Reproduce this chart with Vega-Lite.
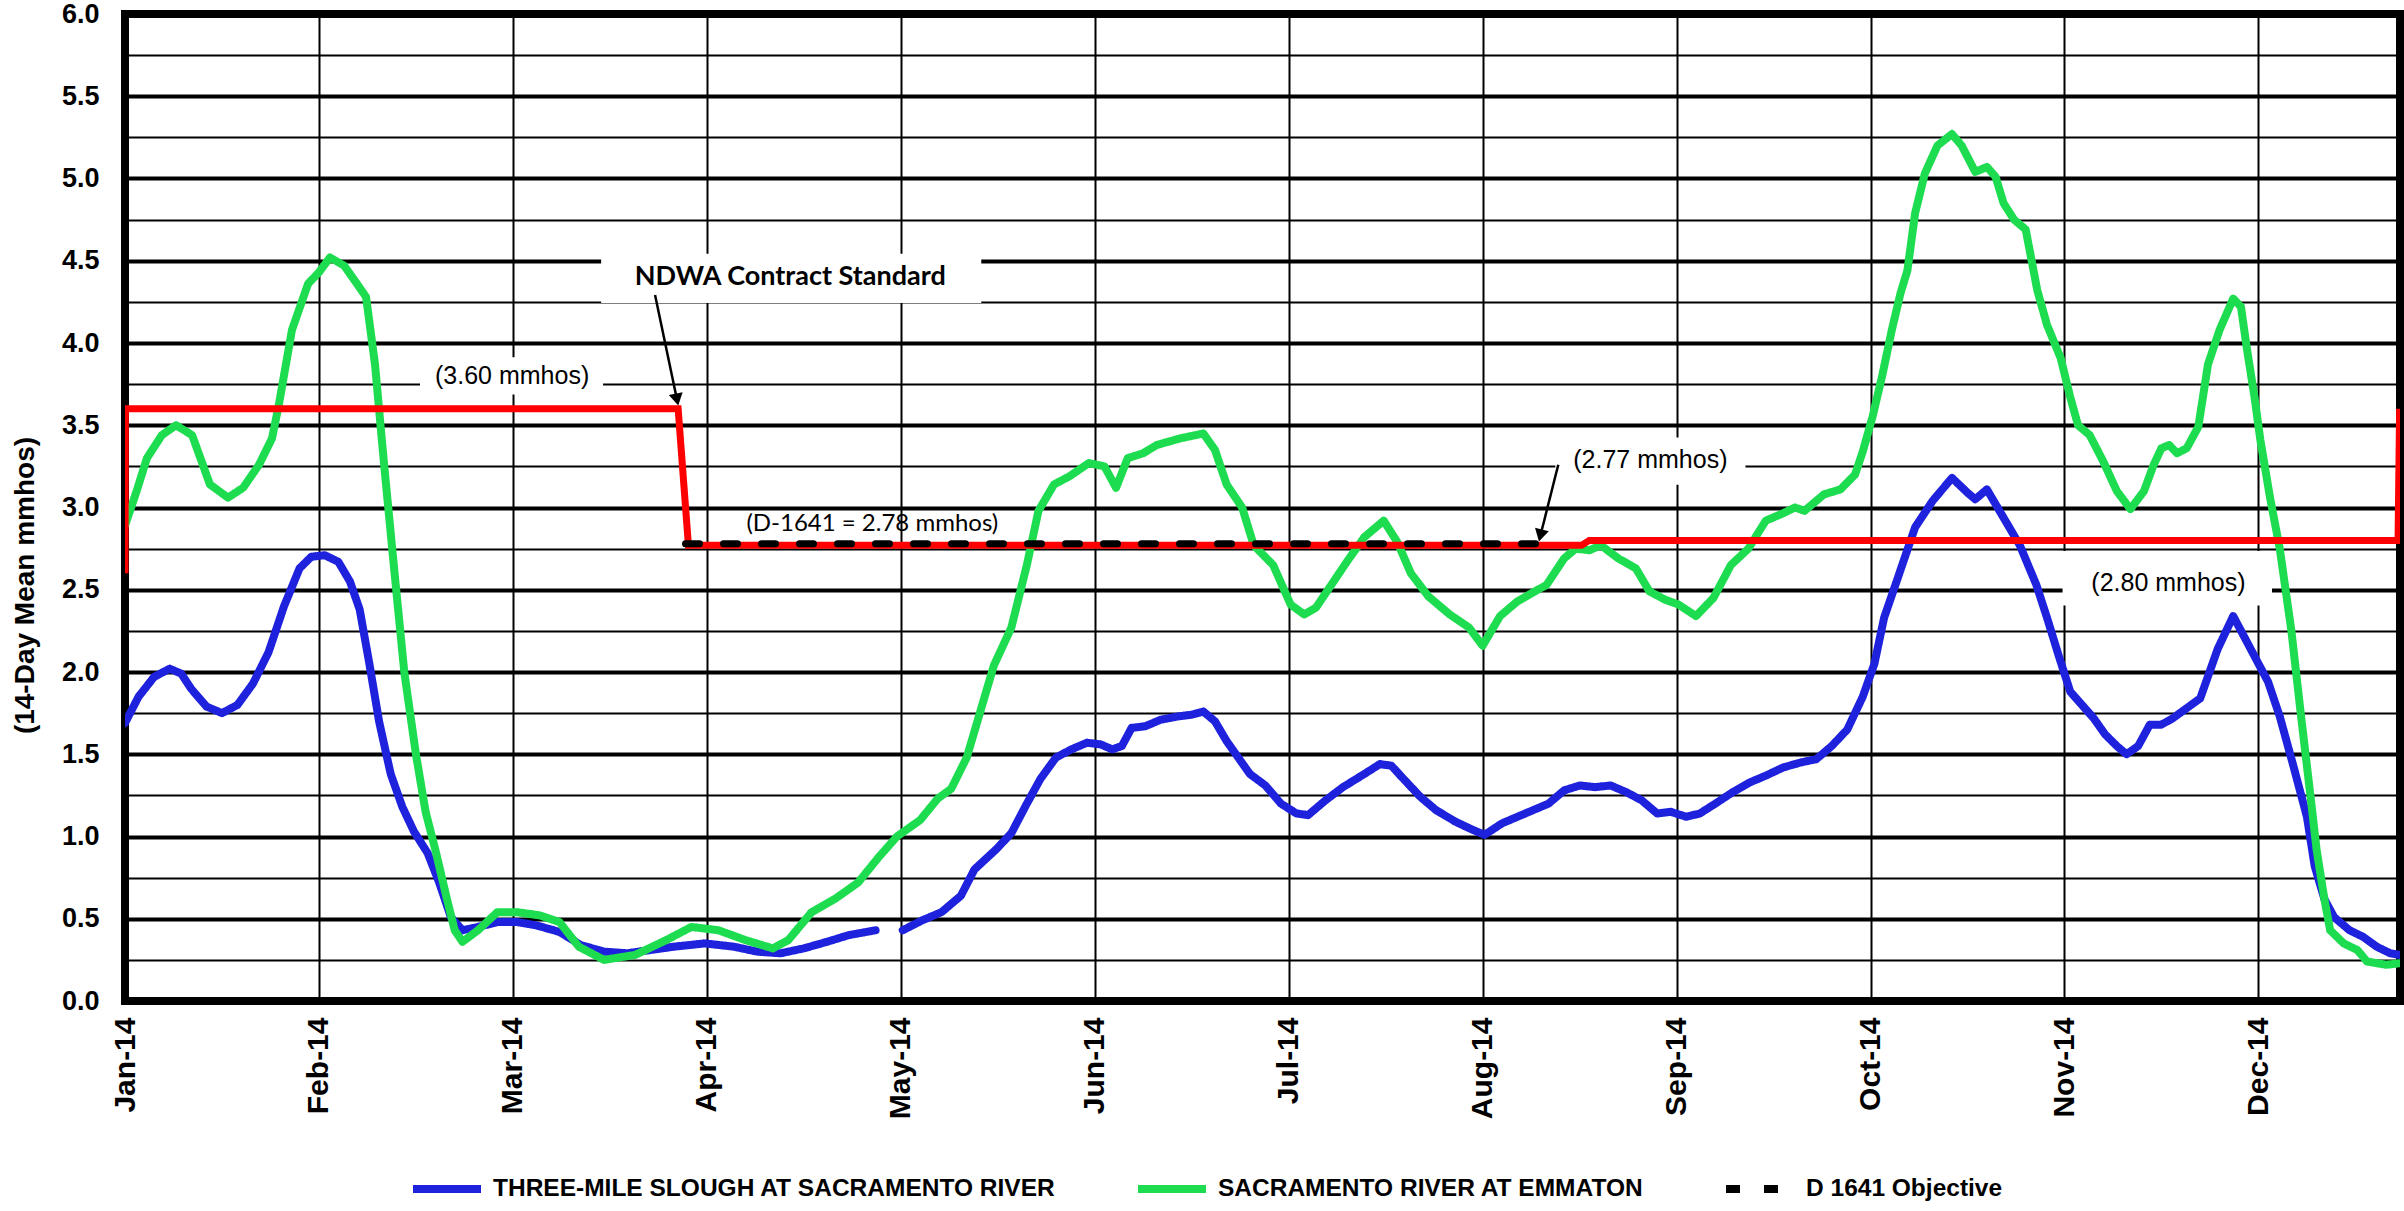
{
 "$schema": "https://vega.github.io/schema/vega-lite/v6.json",
 "width": 2275, "height": 987,
 "autosize": {"type": "none"},
 "padding": {"left": 125, "top": 14, "right": 4, "bottom": 210},
 "background": "white",
 "config": {"font": "Liberation Sans", "view": {"stroke": "black", "strokeWidth": 8}},
 "datasets": {
  "boxes": [
   {"t": 2.455, "t2": 4.415, "ec": 4.243, "ec2": 4.542},
   {"t": 1.521, "t2": 2.465, "ec": 3.687, "ec2": 3.913},
   {"t": 7.375, "t2": 8.355, "ec": 3.138, "ec2": 3.425},
   {"t": 9.99, "t2": 11.07, "ec": 2.405, "ec2": 2.735}
  ],
  "ndwa": [
   {"t": 0, "ec": 2.6}, {"t": 0.002, "ec": 3.6}, {"t": 2.852, "ec": 3.6}, {"t": 2.905, "ec": 2.77},
   {"t": 7.51, "ec": 2.77}, {"t": 7.55, "ec": 2.8}, {"t": 11.72, "ec": 2.8}, {"t": 11.728, "ec": 3.6}
  ],
  "d1641": [
   {"s": "D 1641 Objective", "seg": 1, "t": 2.89, "ec": 2.78},
   {"s": "D 1641 Objective", "seg": 1, "t": 7.30, "ec": 2.78}
  ],
  "series": [
   {"s": "THREE-MILE SLOUGH AT SACRAMENTO RIVER", "seg": 1, "t": 0.00, "ec": 1.69},
   {"s": "THREE-MILE SLOUGH AT SACRAMENTO RIVER", "seg": 1, "t": 0.07, "ec": 1.85},
   {"s": "THREE-MILE SLOUGH AT SACRAMENTO RIVER", "seg": 1, "t": 0.15, "ec": 1.97},
   {"s": "THREE-MILE SLOUGH AT SACRAMENTO RIVER", "seg": 1, "t": 0.23, "ec": 2.02},
   {"s": "THREE-MILE SLOUGH AT SACRAMENTO RIVER", "seg": 1, "t": 0.29, "ec": 1.99},
   {"s": "THREE-MILE SLOUGH AT SACRAMENTO RIVER", "seg": 1, "t": 0.34, "ec": 1.90},
   {"s": "THREE-MILE SLOUGH AT SACRAMENTO RIVER", "seg": 1, "t": 0.42, "ec": 1.79},
   {"s": "THREE-MILE SLOUGH AT SACRAMENTO RIVER", "seg": 1, "t": 0.50, "ec": 1.75},
   {"s": "THREE-MILE SLOUGH AT SACRAMENTO RIVER", "seg": 1, "t": 0.58, "ec": 1.80},
   {"s": "THREE-MILE SLOUGH AT SACRAMENTO RIVER", "seg": 1, "t": 0.66, "ec": 1.93},
   {"s": "THREE-MILE SLOUGH AT SACRAMENTO RIVER", "seg": 1, "t": 0.74, "ec": 2.12},
   {"s": "THREE-MILE SLOUGH AT SACRAMENTO RIVER", "seg": 1, "t": 0.82, "ec": 2.40},
   {"s": "THREE-MILE SLOUGH AT SACRAMENTO RIVER", "seg": 1, "t": 0.90, "ec": 2.63},
   {"s": "THREE-MILE SLOUGH AT SACRAMENTO RIVER", "seg": 1, "t": 0.96, "ec": 2.70},
   {"s": "THREE-MILE SLOUGH AT SACRAMENTO RIVER", "seg": 1, "t": 1.03, "ec": 2.71},
   {"s": "THREE-MILE SLOUGH AT SACRAMENTO RIVER", "seg": 1, "t": 1.10, "ec": 2.67},
   {"s": "THREE-MILE SLOUGH AT SACRAMENTO RIVER", "seg": 1, "t": 1.16, "ec": 2.55},
   {"s": "THREE-MILE SLOUGH AT SACRAMENTO RIVER", "seg": 1, "t": 1.21, "ec": 2.38},
   {"s": "THREE-MILE SLOUGH AT SACRAMENTO RIVER", "seg": 1, "t": 1.26, "ec": 2.05},
   {"s": "THREE-MILE SLOUGH AT SACRAMENTO RIVER", "seg": 1, "t": 1.31, "ec": 1.70},
   {"s": "THREE-MILE SLOUGH AT SACRAMENTO RIVER", "seg": 1, "t": 1.37, "ec": 1.38},
   {"s": "THREE-MILE SLOUGH AT SACRAMENTO RIVER", "seg": 1, "t": 1.43, "ec": 1.18},
   {"s": "THREE-MILE SLOUGH AT SACRAMENTO RIVER", "seg": 1, "t": 1.49, "ec": 1.03},
   {"s": "THREE-MILE SLOUGH AT SACRAMENTO RIVER", "seg": 1, "t": 1.56, "ec": 0.90},
   {"s": "THREE-MILE SLOUGH AT SACRAMENTO RIVER", "seg": 1, "t": 1.62, "ec": 0.72},
   {"s": "THREE-MILE SLOUGH AT SACRAMENTO RIVER", "seg": 1, "t": 1.68, "ec": 0.51},
   {"s": "THREE-MILE SLOUGH AT SACRAMENTO RIVER", "seg": 1, "t": 1.74, "ec": 0.43},
   {"s": "THREE-MILE SLOUGH AT SACRAMENTO RIVER", "seg": 1, "t": 1.82, "ec": 0.45},
   {"s": "THREE-MILE SLOUGH AT SACRAMENTO RIVER", "seg": 1, "t": 1.92, "ec": 0.48},
   {"s": "THREE-MILE SLOUGH AT SACRAMENTO RIVER", "seg": 1, "t": 2.02, "ec": 0.48},
   {"s": "THREE-MILE SLOUGH AT SACRAMENTO RIVER", "seg": 1, "t": 2.12, "ec": 0.46},
   {"s": "THREE-MILE SLOUGH AT SACRAMENTO RIVER", "seg": 1, "t": 2.24, "ec": 0.42},
   {"s": "THREE-MILE SLOUGH AT SACRAMENTO RIVER", "seg": 1, "t": 2.35, "ec": 0.34},
   {"s": "THREE-MILE SLOUGH AT SACRAMENTO RIVER", "seg": 1, "t": 2.47, "ec": 0.30},
   {"s": "THREE-MILE SLOUGH AT SACRAMENTO RIVER", "seg": 1, "t": 2.59, "ec": 0.29},
   {"s": "THREE-MILE SLOUGH AT SACRAMENTO RIVER", "seg": 1, "t": 2.71, "ec": 0.31},
   {"s": "THREE-MILE SLOUGH AT SACRAMENTO RIVER", "seg": 1, "t": 2.83, "ec": 0.33},
   {"s": "THREE-MILE SLOUGH AT SACRAMENTO RIVER", "seg": 1, "t": 2.99, "ec": 0.35},
   {"s": "THREE-MILE SLOUGH AT SACRAMENTO RIVER", "seg": 1, "t": 3.14, "ec": 0.33},
   {"s": "THREE-MILE SLOUGH AT SACRAMENTO RIVER", "seg": 1, "t": 3.26, "ec": 0.30},
   {"s": "THREE-MILE SLOUGH AT SACRAMENTO RIVER", "seg": 1, "t": 3.38, "ec": 0.29},
   {"s": "THREE-MILE SLOUGH AT SACRAMENTO RIVER", "seg": 1, "t": 3.50, "ec": 0.32},
   {"s": "THREE-MILE SLOUGH AT SACRAMENTO RIVER", "seg": 1, "t": 3.62, "ec": 0.36},
   {"s": "THREE-MILE SLOUGH AT SACRAMENTO RIVER", "seg": 1, "t": 3.73, "ec": 0.40},
   {"s": "THREE-MILE SLOUGH AT SACRAMENTO RIVER", "seg": 1, "t": 3.87, "ec": 0.43},
   {"s": "THREE-MILE SLOUGH AT SACRAMENTO RIVER", "seg": 2, "t": 4.01, "ec": 0.43},
   {"s": "THREE-MILE SLOUGH AT SACRAMENTO RIVER", "seg": 2, "t": 4.11, "ec": 0.49},
   {"s": "THREE-MILE SLOUGH AT SACRAMENTO RIVER", "seg": 2, "t": 4.21, "ec": 0.54},
   {"s": "THREE-MILE SLOUGH AT SACRAMENTO RIVER", "seg": 2, "t": 4.31, "ec": 0.64},
   {"s": "THREE-MILE SLOUGH AT SACRAMENTO RIVER", "seg": 2, "t": 4.38, "ec": 0.80},
   {"s": "THREE-MILE SLOUGH AT SACRAMENTO RIVER", "seg": 2, "t": 4.49, "ec": 0.92},
   {"s": "THREE-MILE SLOUGH AT SACRAMENTO RIVER", "seg": 2, "t": 4.57, "ec": 1.02},
   {"s": "THREE-MILE SLOUGH AT SACRAMENTO RIVER", "seg": 2, "t": 4.65, "ec": 1.20},
   {"s": "THREE-MILE SLOUGH AT SACRAMENTO RIVER", "seg": 2, "t": 4.72, "ec": 1.35},
   {"s": "THREE-MILE SLOUGH AT SACRAMENTO RIVER", "seg": 2, "t": 4.80, "ec": 1.48},
   {"s": "THREE-MILE SLOUGH AT SACRAMENTO RIVER", "seg": 2, "t": 4.88, "ec": 1.53},
   {"s": "THREE-MILE SLOUGH AT SACRAMENTO RIVER", "seg": 2, "t": 4.96, "ec": 1.57},
   {"s": "THREE-MILE SLOUGH AT SACRAMENTO RIVER", "seg": 2, "t": 5.03, "ec": 1.56},
   {"s": "THREE-MILE SLOUGH AT SACRAMENTO RIVER", "seg": 2, "t": 5.09, "ec": 1.53},
   {"s": "THREE-MILE SLOUGH AT SACRAMENTO RIVER", "seg": 2, "t": 5.14, "ec": 1.55},
   {"s": "THREE-MILE SLOUGH AT SACRAMENTO RIVER", "seg": 2, "t": 5.19, "ec": 1.66},
   {"s": "THREE-MILE SLOUGH AT SACRAMENTO RIVER", "seg": 2, "t": 5.26, "ec": 1.67},
   {"s": "THREE-MILE SLOUGH AT SACRAMENTO RIVER", "seg": 2, "t": 5.34, "ec": 1.71},
   {"s": "THREE-MILE SLOUGH AT SACRAMENTO RIVER", "seg": 2, "t": 5.43, "ec": 1.73},
   {"s": "THREE-MILE SLOUGH AT SACRAMENTO RIVER", "seg": 2, "t": 5.50, "ec": 1.74},
   {"s": "THREE-MILE SLOUGH AT SACRAMENTO RIVER", "seg": 2, "t": 5.56, "ec": 1.76},
   {"s": "THREE-MILE SLOUGH AT SACRAMENTO RIVER", "seg": 2, "t": 5.62, "ec": 1.70},
   {"s": "THREE-MILE SLOUGH AT SACRAMENTO RIVER", "seg": 2, "t": 5.68, "ec": 1.58},
   {"s": "THREE-MILE SLOUGH AT SACRAMENTO RIVER", "seg": 2, "t": 5.74, "ec": 1.48},
   {"s": "THREE-MILE SLOUGH AT SACRAMENTO RIVER", "seg": 2, "t": 5.80, "ec": 1.38},
   {"s": "THREE-MILE SLOUGH AT SACRAMENTO RIVER", "seg": 2, "t": 5.88, "ec": 1.31},
   {"s": "THREE-MILE SLOUGH AT SACRAMENTO RIVER", "seg": 2, "t": 5.96, "ec": 1.20},
   {"s": "THREE-MILE SLOUGH AT SACRAMENTO RIVER", "seg": 2, "t": 6.04, "ec": 1.14},
   {"s": "THREE-MILE SLOUGH AT SACRAMENTO RIVER", "seg": 2, "t": 6.10, "ec": 1.13},
   {"s": "THREE-MILE SLOUGH AT SACRAMENTO RIVER", "seg": 2, "t": 6.19, "ec": 1.22},
   {"s": "THREE-MILE SLOUGH AT SACRAMENTO RIVER", "seg": 2, "t": 6.28, "ec": 1.30},
   {"s": "THREE-MILE SLOUGH AT SACRAMENTO RIVER", "seg": 2, "t": 6.39, "ec": 1.38},
   {"s": "THREE-MILE SLOUGH AT SACRAMENTO RIVER", "seg": 2, "t": 6.47, "ec": 1.44},
   {"s": "THREE-MILE SLOUGH AT SACRAMENTO RIVER", "seg": 2, "t": 6.53, "ec": 1.43},
   {"s": "THREE-MILE SLOUGH AT SACRAMENTO RIVER", "seg": 2, "t": 6.60, "ec": 1.34},
   {"s": "THREE-MILE SLOUGH AT SACRAMENTO RIVER", "seg": 2, "t": 6.68, "ec": 1.24},
   {"s": "THREE-MILE SLOUGH AT SACRAMENTO RIVER", "seg": 2, "t": 6.76, "ec": 1.16},
   {"s": "THREE-MILE SLOUGH AT SACRAMENTO RIVER", "seg": 2, "t": 6.86, "ec": 1.09},
   {"s": "THREE-MILE SLOUGH AT SACRAMENTO RIVER", "seg": 2, "t": 6.95, "ec": 1.04},
   {"s": "THREE-MILE SLOUGH AT SACRAMENTO RIVER", "seg": 2, "t": 7.01, "ec": 1.01},
   {"s": "THREE-MILE SLOUGH AT SACRAMENTO RIVER", "seg": 2, "t": 7.10, "ec": 1.08},
   {"s": "THREE-MILE SLOUGH AT SACRAMENTO RIVER", "seg": 2, "t": 7.22, "ec": 1.14},
   {"s": "THREE-MILE SLOUGH AT SACRAMENTO RIVER", "seg": 2, "t": 7.34, "ec": 1.20},
   {"s": "THREE-MILE SLOUGH AT SACRAMENTO RIVER", "seg": 2, "t": 7.42, "ec": 1.28},
   {"s": "THREE-MILE SLOUGH AT SACRAMENTO RIVER", "seg": 2, "t": 7.50, "ec": 1.31},
   {"s": "THREE-MILE SLOUGH AT SACRAMENTO RIVER", "seg": 2, "t": 7.58, "ec": 1.30},
   {"s": "THREE-MILE SLOUGH AT SACRAMENTO RIVER", "seg": 2, "t": 7.66, "ec": 1.31},
   {"s": "THREE-MILE SLOUGH AT SACRAMENTO RIVER", "seg": 2, "t": 7.74, "ec": 1.27},
   {"s": "THREE-MILE SLOUGH AT SACRAMENTO RIVER", "seg": 2, "t": 7.82, "ec": 1.22},
   {"s": "THREE-MILE SLOUGH AT SACRAMENTO RIVER", "seg": 2, "t": 7.90, "ec": 1.14},
   {"s": "THREE-MILE SLOUGH AT SACRAMENTO RIVER", "seg": 2, "t": 7.97, "ec": 1.15},
   {"s": "THREE-MILE SLOUGH AT SACRAMENTO RIVER", "seg": 2, "t": 8.05, "ec": 1.12},
   {"s": "THREE-MILE SLOUGH AT SACRAMENTO RIVER", "seg": 2, "t": 8.12, "ec": 1.14},
   {"s": "THREE-MILE SLOUGH AT SACRAMENTO RIVER", "seg": 2, "t": 8.20, "ec": 1.20},
   {"s": "THREE-MILE SLOUGH AT SACRAMENTO RIVER", "seg": 2, "t": 8.29, "ec": 1.27},
   {"s": "THREE-MILE SLOUGH AT SACRAMENTO RIVER", "seg": 2, "t": 8.38, "ec": 1.33},
   {"s": "THREE-MILE SLOUGH AT SACRAMENTO RIVER", "seg": 2, "t": 8.46, "ec": 1.37},
   {"s": "THREE-MILE SLOUGH AT SACRAMENTO RIVER", "seg": 2, "t": 8.55, "ec": 1.42},
   {"s": "THREE-MILE SLOUGH AT SACRAMENTO RIVER", "seg": 2, "t": 8.64, "ec": 1.45},
   {"s": "THREE-MILE SLOUGH AT SACRAMENTO RIVER", "seg": 2, "t": 8.72, "ec": 1.47},
   {"s": "THREE-MILE SLOUGH AT SACRAMENTO RIVER", "seg": 2, "t": 8.80, "ec": 1.55},
   {"s": "THREE-MILE SLOUGH AT SACRAMENTO RIVER", "seg": 2, "t": 8.88, "ec": 1.65},
   {"s": "THREE-MILE SLOUGH AT SACRAMENTO RIVER", "seg": 2, "t": 8.96, "ec": 1.85},
   {"s": "THREE-MILE SLOUGH AT SACRAMENTO RIVER", "seg": 2, "t": 9.02, "ec": 2.05},
   {"s": "THREE-MILE SLOUGH AT SACRAMENTO RIVER", "seg": 2, "t": 9.07, "ec": 2.33},
   {"s": "THREE-MILE SLOUGH AT SACRAMENTO RIVER", "seg": 2, "t": 9.14, "ec": 2.57},
   {"s": "THREE-MILE SLOUGH AT SACRAMENTO RIVER", "seg": 2, "t": 9.23, "ec": 2.88},
   {"s": "THREE-MILE SLOUGH AT SACRAMENTO RIVER", "seg": 2, "t": 9.32, "ec": 3.04},
   {"s": "THREE-MILE SLOUGH AT SACRAMENTO RIVER", "seg": 2, "t": 9.42, "ec": 3.18},
   {"s": "THREE-MILE SLOUGH AT SACRAMENTO RIVER", "seg": 2, "t": 9.50, "ec": 3.09},
   {"s": "THREE-MILE SLOUGH AT SACRAMENTO RIVER", "seg": 2, "t": 9.54, "ec": 3.05},
   {"s": "THREE-MILE SLOUGH AT SACRAMENTO RIVER", "seg": 2, "t": 9.60, "ec": 3.11},
   {"s": "THREE-MILE SLOUGH AT SACRAMENTO RIVER", "seg": 2, "t": 9.675, "ec": 2.96},
   {"s": "THREE-MILE SLOUGH AT SACRAMENTO RIVER", "seg": 2, "t": 9.77, "ec": 2.77},
   {"s": "THREE-MILE SLOUGH AT SACRAMENTO RIVER", "seg": 2, "t": 9.855, "ec": 2.53},
   {"s": "THREE-MILE SLOUGH AT SACRAMENTO RIVER", "seg": 2, "t": 9.91, "ec": 2.33},
   {"s": "THREE-MILE SLOUGH AT SACRAMENTO RIVER", "seg": 2, "t": 9.97, "ec": 2.10},
   {"s": "THREE-MILE SLOUGH AT SACRAMENTO RIVER", "seg": 2, "t": 10.03, "ec": 1.88},
   {"s": "THREE-MILE SLOUGH AT SACRAMENTO RIVER", "seg": 2, "t": 10.09, "ec": 1.80},
   {"s": "THREE-MILE SLOUGH AT SACRAMENTO RIVER", "seg": 2, "t": 10.15, "ec": 1.72},
   {"s": "THREE-MILE SLOUGH AT SACRAMENTO RIVER", "seg": 2, "t": 10.21, "ec": 1.62},
   {"s": "THREE-MILE SLOUGH AT SACRAMENTO RIVER", "seg": 2, "t": 10.27, "ec": 1.55},
   {"s": "THREE-MILE SLOUGH AT SACRAMENTO RIVER", "seg": 2, "t": 10.32, "ec": 1.50},
   {"s": "THREE-MILE SLOUGH AT SACRAMENTO RIVER", "seg": 2, "t": 10.38, "ec": 1.55},
   {"s": "THREE-MILE SLOUGH AT SACRAMENTO RIVER", "seg": 2, "t": 10.44, "ec": 1.68},
   {"s": "THREE-MILE SLOUGH AT SACRAMENTO RIVER", "seg": 2, "t": 10.50, "ec": 1.68},
   {"s": "THREE-MILE SLOUGH AT SACRAMENTO RIVER", "seg": 2, "t": 10.56, "ec": 1.72},
   {"s": "THREE-MILE SLOUGH AT SACRAMENTO RIVER", "seg": 2, "t": 10.63, "ec": 1.78},
   {"s": "THREE-MILE SLOUGH AT SACRAMENTO RIVER", "seg": 2, "t": 10.70, "ec": 1.84},
   {"s": "THREE-MILE SLOUGH AT SACRAMENTO RIVER", "seg": 2, "t": 10.79, "ec": 2.14},
   {"s": "THREE-MILE SLOUGH AT SACRAMENTO RIVER", "seg": 2, "t": 10.87, "ec": 2.34},
   {"s": "THREE-MILE SLOUGH AT SACRAMENTO RIVER", "seg": 2, "t": 10.96, "ec": 2.14},
   {"s": "THREE-MILE SLOUGH AT SACRAMENTO RIVER", "seg": 2, "t": 11.05, "ec": 1.94},
   {"s": "THREE-MILE SLOUGH AT SACRAMENTO RIVER", "seg": 2, "t": 11.11, "ec": 1.73},
   {"s": "THREE-MILE SLOUGH AT SACRAMENTO RIVER", "seg": 2, "t": 11.18, "ec": 1.43},
   {"s": "THREE-MILE SLOUGH AT SACRAMENTO RIVER", "seg": 2, "t": 11.25, "ec": 1.12},
   {"s": "THREE-MILE SLOUGH AT SACRAMENTO RIVER", "seg": 2, "t": 11.29, "ec": 0.82},
   {"s": "THREE-MILE SLOUGH AT SACRAMENTO RIVER", "seg": 2, "t": 11.34, "ec": 0.62},
   {"s": "THREE-MILE SLOUGH AT SACRAMENTO RIVER", "seg": 2, "t": 11.39, "ec": 0.51},
   {"s": "THREE-MILE SLOUGH AT SACRAMENTO RIVER", "seg": 2, "t": 11.47, "ec": 0.43},
   {"s": "THREE-MILE SLOUGH AT SACRAMENTO RIVER", "seg": 2, "t": 11.54, "ec": 0.39},
   {"s": "THREE-MILE SLOUGH AT SACRAMENTO RIVER", "seg": 2, "t": 11.61, "ec": 0.33},
   {"s": "THREE-MILE SLOUGH AT SACRAMENTO RIVER", "seg": 2, "t": 11.68, "ec": 0.29},
   {"s": "THREE-MILE SLOUGH AT SACRAMENTO RIVER", "seg": 2, "t": 11.73, "ec": 0.28},
   {"s": "SACRAMENTO RIVER AT EMMATON", "seg": 1, "t": 0.00, "ec": 2.89},
   {"s": "SACRAMENTO RIVER AT EMMATON", "seg": 1, "t": 0.06, "ec": 3.10},
   {"s": "SACRAMENTO RIVER AT EMMATON", "seg": 1, "t": 0.113, "ec": 3.30},
   {"s": "SACRAMENTO RIVER AT EMMATON", "seg": 1, "t": 0.19, "ec": 3.44},
   {"s": "SACRAMENTO RIVER AT EMMATON", "seg": 1, "t": 0.263, "ec": 3.50},
   {"s": "SACRAMENTO RIVER AT EMMATON", "seg": 1, "t": 0.346, "ec": 3.44},
   {"s": "SACRAMENTO RIVER AT EMMATON", "seg": 1, "t": 0.438, "ec": 3.14},
   {"s": "SACRAMENTO RIVER AT EMMATON", "seg": 1, "t": 0.531, "ec": 3.06},
   {"s": "SACRAMENTO RIVER AT EMMATON", "seg": 1, "t": 0.609, "ec": 3.12},
   {"s": "SACRAMENTO RIVER AT EMMATON", "seg": 1, "t": 0.691, "ec": 3.26},
   {"s": "SACRAMENTO RIVER AT EMMATON", "seg": 1, "t": 0.758, "ec": 3.42},
   {"s": "SACRAMENTO RIVER AT EMMATON", "seg": 1, "t": 0.794, "ec": 3.63},
   {"s": "SACRAMENTO RIVER AT EMMATON", "seg": 1, "t": 0.861, "ec": 4.08},
   {"s": "SACRAMENTO RIVER AT EMMATON", "seg": 1, "t": 0.944, "ec": 4.36},
   {"s": "SACRAMENTO RIVER AT EMMATON", "seg": 1, "t": 1.00, "ec": 4.43},
   {"s": "SACRAMENTO RIVER AT EMMATON", "seg": 1, "t": 1.057, "ec": 4.52},
   {"s": "SACRAMENTO RIVER AT EMMATON", "seg": 1, "t": 1.13, "ec": 4.47},
   {"s": "SACRAMENTO RIVER AT EMMATON", "seg": 1, "t": 1.196, "ec": 4.36},
   {"s": "SACRAMENTO RIVER AT EMMATON", "seg": 1, "t": 1.243, "ec": 4.28},
   {"s": "SACRAMENTO RIVER AT EMMATON", "seg": 1, "t": 1.289, "ec": 3.87},
   {"s": "SACRAMENTO RIVER AT EMMATON", "seg": 1, "t": 1.336, "ec": 3.26},
   {"s": "SACRAMENTO RIVER AT EMMATON", "seg": 1, "t": 1.39, "ec": 2.60},
   {"s": "SACRAMENTO RIVER AT EMMATON", "seg": 1, "t": 1.44, "ec": 2.00},
   {"s": "SACRAMENTO RIVER AT EMMATON", "seg": 1, "t": 1.50, "ec": 1.50},
   {"s": "SACRAMENTO RIVER AT EMMATON", "seg": 1, "t": 1.55, "ec": 1.15},
   {"s": "SACRAMENTO RIVER AT EMMATON", "seg": 1, "t": 1.60, "ec": 0.92},
   {"s": "SACRAMENTO RIVER AT EMMATON", "seg": 1, "t": 1.66, "ec": 0.62},
   {"s": "SACRAMENTO RIVER AT EMMATON", "seg": 1, "t": 1.70, "ec": 0.43},
   {"s": "SACRAMENTO RIVER AT EMMATON", "seg": 1, "t": 1.74, "ec": 0.36},
   {"s": "SACRAMENTO RIVER AT EMMATON", "seg": 1, "t": 1.82, "ec": 0.43},
   {"s": "SACRAMENTO RIVER AT EMMATON", "seg": 1, "t": 1.92, "ec": 0.54},
   {"s": "SACRAMENTO RIVER AT EMMATON", "seg": 1, "t": 2.02, "ec": 0.54},
   {"s": "SACRAMENTO RIVER AT EMMATON", "seg": 1, "t": 2.14, "ec": 0.52},
   {"s": "SACRAMENTO RIVER AT EMMATON", "seg": 1, "t": 2.24, "ec": 0.48},
   {"s": "SACRAMENTO RIVER AT EMMATON", "seg": 1, "t": 2.34, "ec": 0.33},
   {"s": "SACRAMENTO RIVER AT EMMATON", "seg": 1, "t": 2.47, "ec": 0.25},
   {"s": "SACRAMENTO RIVER AT EMMATON", "seg": 1, "t": 2.63, "ec": 0.28},
   {"s": "SACRAMENTO RIVER AT EMMATON", "seg": 1, "t": 2.79, "ec": 0.37},
   {"s": "SACRAMENTO RIVER AT EMMATON", "seg": 1, "t": 2.92, "ec": 0.45},
   {"s": "SACRAMENTO RIVER AT EMMATON", "seg": 1, "t": 3.06, "ec": 0.43},
   {"s": "SACRAMENTO RIVER AT EMMATON", "seg": 1, "t": 3.20, "ec": 0.37},
   {"s": "SACRAMENTO RIVER AT EMMATON", "seg": 1, "t": 3.34, "ec": 0.32},
   {"s": "SACRAMENTO RIVER AT EMMATON", "seg": 1, "t": 3.42, "ec": 0.37},
   {"s": "SACRAMENTO RIVER AT EMMATON", "seg": 1, "t": 3.54, "ec": 0.54},
   {"s": "SACRAMENTO RIVER AT EMMATON", "seg": 1, "t": 3.66, "ec": 0.62},
   {"s": "SACRAMENTO RIVER AT EMMATON", "seg": 1, "t": 3.78, "ec": 0.72},
   {"s": "SACRAMENTO RIVER AT EMMATON", "seg": 1, "t": 3.89, "ec": 0.88},
   {"s": "SACRAMENTO RIVER AT EMMATON", "seg": 1, "t": 3.98, "ec": 1.00},
   {"s": "SACRAMENTO RIVER AT EMMATON", "seg": 1, "t": 4.10, "ec": 1.10},
   {"s": "SACRAMENTO RIVER AT EMMATON", "seg": 1, "t": 4.19, "ec": 1.23},
   {"s": "SACRAMENTO RIVER AT EMMATON", "seg": 1, "t": 4.26, "ec": 1.29},
   {"s": "SACRAMENTO RIVER AT EMMATON", "seg": 1, "t": 4.34, "ec": 1.48},
   {"s": "SACRAMENTO RIVER AT EMMATON", "seg": 1, "t": 4.41, "ec": 1.76},
   {"s": "SACRAMENTO RIVER AT EMMATON", "seg": 1, "t": 4.48, "ec": 2.04},
   {"s": "SACRAMENTO RIVER AT EMMATON", "seg": 1, "t": 4.57, "ec": 2.27},
   {"s": "SACRAMENTO RIVER AT EMMATON", "seg": 1, "t": 4.65, "ec": 2.65},
   {"s": "SACRAMENTO RIVER AT EMMATON", "seg": 1, "t": 4.71, "ec": 2.98},
   {"s": "SACRAMENTO RIVER AT EMMATON", "seg": 1, "t": 4.79, "ec": 3.14},
   {"s": "SACRAMENTO RIVER AT EMMATON", "seg": 1, "t": 4.87, "ec": 3.19},
   {"s": "SACRAMENTO RIVER AT EMMATON", "seg": 1, "t": 4.97, "ec": 3.27},
   {"s": "SACRAMENTO RIVER AT EMMATON", "seg": 1, "t": 5.05, "ec": 3.25},
   {"s": "SACRAMENTO RIVER AT EMMATON", "seg": 1, "t": 5.11, "ec": 3.12},
   {"s": "SACRAMENTO RIVER AT EMMATON", "seg": 1, "t": 5.17, "ec": 3.30},
   {"s": "SACRAMENTO RIVER AT EMMATON", "seg": 1, "t": 5.25, "ec": 3.33},
   {"s": "SACRAMENTO RIVER AT EMMATON", "seg": 1, "t": 5.32, "ec": 3.38},
   {"s": "SACRAMENTO RIVER AT EMMATON", "seg": 1, "t": 5.44, "ec": 3.42},
   {"s": "SACRAMENTO RIVER AT EMMATON", "seg": 1, "t": 5.56, "ec": 3.45},
   {"s": "SACRAMENTO RIVER AT EMMATON", "seg": 1, "t": 5.62, "ec": 3.35},
   {"s": "SACRAMENTO RIVER AT EMMATON", "seg": 1, "t": 5.68, "ec": 3.14},
   {"s": "SACRAMENTO RIVER AT EMMATON", "seg": 1, "t": 5.76, "ec": 3.00},
   {"s": "SACRAMENTO RIVER AT EMMATON", "seg": 1, "t": 5.82, "ec": 2.77},
   {"s": "SACRAMENTO RIVER AT EMMATON", "seg": 1, "t": 5.92, "ec": 2.65},
   {"s": "SACRAMENTO RIVER AT EMMATON", "seg": 1, "t": 6.01, "ec": 2.41},
   {"s": "SACRAMENTO RIVER AT EMMATON", "seg": 1, "t": 6.08, "ec": 2.35},
   {"s": "SACRAMENTO RIVER AT EMMATON", "seg": 1, "t": 6.14, "ec": 2.39},
   {"s": "SACRAMENTO RIVER AT EMMATON", "seg": 1, "t": 6.22, "ec": 2.53},
   {"s": "SACRAMENTO RIVER AT EMMATON", "seg": 1, "t": 6.30, "ec": 2.67},
   {"s": "SACRAMENTO RIVER AT EMMATON", "seg": 1, "t": 6.39, "ec": 2.82},
   {"s": "SACRAMENTO RIVER AT EMMATON", "seg": 1, "t": 6.49, "ec": 2.92},
   {"s": "SACRAMENTO RIVER AT EMMATON", "seg": 1, "t": 6.56, "ec": 2.79},
   {"s": "SACRAMENTO RIVER AT EMMATON", "seg": 1, "t": 6.63, "ec": 2.60},
   {"s": "SACRAMENTO RIVER AT EMMATON", "seg": 1, "t": 6.72, "ec": 2.46},
   {"s": "SACRAMENTO RIVER AT EMMATON", "seg": 1, "t": 6.83, "ec": 2.35},
   {"s": "SACRAMENTO RIVER AT EMMATON", "seg": 1, "t": 6.93, "ec": 2.27},
   {"s": "SACRAMENTO RIVER AT EMMATON", "seg": 1, "t": 7.00, "ec": 2.16},
   {"s": "SACRAMENTO RIVER AT EMMATON", "seg": 1, "t": 7.09, "ec": 2.34},
   {"s": "SACRAMENTO RIVER AT EMMATON", "seg": 1, "t": 7.18, "ec": 2.43},
   {"s": "SACRAMENTO RIVER AT EMMATON", "seg": 1, "t": 7.33, "ec": 2.53},
   {"s": "SACRAMENTO RIVER AT EMMATON", "seg": 1, "t": 7.42, "ec": 2.69},
   {"s": "SACRAMENTO RIVER AT EMMATON", "seg": 1, "t": 7.48, "ec": 2.75},
   {"s": "SACRAMENTO RIVER AT EMMATON", "seg": 1, "t": 7.55, "ec": 2.74},
   {"s": "SACRAMENTO RIVER AT EMMATON", "seg": 1, "t": 7.61, "ec": 2.77},
   {"s": "SACRAMENTO RIVER AT EMMATON", "seg": 1, "t": 7.70, "ec": 2.69},
   {"s": "SACRAMENTO RIVER AT EMMATON", "seg": 1, "t": 7.79, "ec": 2.63},
   {"s": "SACRAMENTO RIVER AT EMMATON", "seg": 1, "t": 7.86, "ec": 2.49},
   {"s": "SACRAMENTO RIVER AT EMMATON", "seg": 1, "t": 7.94, "ec": 2.44},
   {"s": "SACRAMENTO RIVER AT EMMATON", "seg": 1, "t": 8.01, "ec": 2.41},
   {"s": "SACRAMENTO RIVER AT EMMATON", "seg": 1, "t": 8.10, "ec": 2.34},
   {"s": "SACRAMENTO RIVER AT EMMATON", "seg": 1, "t": 8.19, "ec": 2.45},
   {"s": "SACRAMENTO RIVER AT EMMATON", "seg": 1, "t": 8.28, "ec": 2.65},
   {"s": "SACRAMENTO RIVER AT EMMATON", "seg": 1, "t": 8.37, "ec": 2.75},
   {"s": "SACRAMENTO RIVER AT EMMATON", "seg": 1, "t": 8.46, "ec": 2.92},
   {"s": "SACRAMENTO RIVER AT EMMATON", "seg": 1, "t": 8.54, "ec": 2.96},
   {"s": "SACRAMENTO RIVER AT EMMATON", "seg": 1, "t": 8.61, "ec": 3.00},
   {"s": "SACRAMENTO RIVER AT EMMATON", "seg": 1, "t": 8.66, "ec": 2.98},
   {"s": "SACRAMENTO RIVER AT EMMATON", "seg": 1, "t": 8.76, "ec": 3.08},
   {"s": "SACRAMENTO RIVER AT EMMATON", "seg": 1, "t": 8.845, "ec": 3.11},
   {"s": "SACRAMENTO RIVER AT EMMATON", "seg": 1, "t": 8.92, "ec": 3.20},
   {"s": "SACRAMENTO RIVER AT EMMATON", "seg": 1, "t": 8.96, "ec": 3.34},
   {"s": "SACRAMENTO RIVER AT EMMATON", "seg": 1, "t": 9.01, "ec": 3.55},
   {"s": "SACRAMENTO RIVER AT EMMATON", "seg": 1, "t": 9.06, "ec": 3.80},
   {"s": "SACRAMENTO RIVER AT EMMATON", "seg": 1, "t": 9.11, "ec": 4.08},
   {"s": "SACRAMENTO RIVER AT EMMATON", "seg": 1, "t": 9.154, "ec": 4.30},
   {"s": "SACRAMENTO RIVER AT EMMATON", "seg": 1, "t": 9.19, "ec": 4.44},
   {"s": "SACRAMENTO RIVER AT EMMATON", "seg": 1, "t": 9.23, "ec": 4.79},
   {"s": "SACRAMENTO RIVER AT EMMATON", "seg": 1, "t": 9.28, "ec": 5.03},
   {"s": "SACRAMENTO RIVER AT EMMATON", "seg": 1, "t": 9.345, "ec": 5.20},
   {"s": "SACRAMENTO RIVER AT EMMATON", "seg": 1, "t": 9.42, "ec": 5.27},
   {"s": "SACRAMENTO RIVER AT EMMATON", "seg": 1, "t": 9.47, "ec": 5.20},
   {"s": "SACRAMENTO RIVER AT EMMATON", "seg": 1, "t": 9.54, "ec": 5.04},
   {"s": "SACRAMENTO RIVER AT EMMATON", "seg": 1, "t": 9.60, "ec": 5.07},
   {"s": "SACRAMENTO RIVER AT EMMATON", "seg": 1, "t": 9.645, "ec": 5.01},
   {"s": "SACRAMENTO RIVER AT EMMATON", "seg": 1, "t": 9.686, "ec": 4.85},
   {"s": "SACRAMENTO RIVER AT EMMATON", "seg": 1, "t": 9.74, "ec": 4.75},
   {"s": "SACRAMENTO RIVER AT EMMATON", "seg": 1, "t": 9.80, "ec": 4.69},
   {"s": "SACRAMENTO RIVER AT EMMATON", "seg": 1, "t": 9.86, "ec": 4.32},
   {"s": "SACRAMENTO RIVER AT EMMATON", "seg": 1, "t": 9.91, "ec": 4.11},
   {"s": "SACRAMENTO RIVER AT EMMATON", "seg": 1, "t": 9.98, "ec": 3.91},
   {"s": "SACRAMENTO RIVER AT EMMATON", "seg": 1, "t": 10.03, "ec": 3.67},
   {"s": "SACRAMENTO RIVER AT EMMATON", "seg": 1, "t": 10.07, "ec": 3.50},
   {"s": "SACRAMENTO RIVER AT EMMATON", "seg": 1, "t": 10.13, "ec": 3.44},
   {"s": "SACRAMENTO RIVER AT EMMATON", "seg": 1, "t": 10.20, "ec": 3.28},
   {"s": "SACRAMENTO RIVER AT EMMATON", "seg": 1, "t": 10.27, "ec": 3.10},
   {"s": "SACRAMENTO RIVER AT EMMATON", "seg": 1, "t": 10.34, "ec": 2.99},
   {"s": "SACRAMENTO RIVER AT EMMATON", "seg": 1, "t": 10.41, "ec": 3.10},
   {"s": "SACRAMENTO RIVER AT EMMATON", "seg": 1, "t": 10.46, "ec": 3.26},
   {"s": "SACRAMENTO RIVER AT EMMATON", "seg": 1, "t": 10.50, "ec": 3.36},
   {"s": "SACRAMENTO RIVER AT EMMATON", "seg": 1, "t": 10.54, "ec": 3.38},
   {"s": "SACRAMENTO RIVER AT EMMATON", "seg": 1, "t": 10.58, "ec": 3.33},
   {"s": "SACRAMENTO RIVER AT EMMATON", "seg": 1, "t": 10.63, "ec": 3.36},
   {"s": "SACRAMENTO RIVER AT EMMATON", "seg": 1, "t": 10.69, "ec": 3.49},
   {"s": "SACRAMENTO RIVER AT EMMATON", "seg": 1, "t": 10.74, "ec": 3.87},
   {"s": "SACRAMENTO RIVER AT EMMATON", "seg": 1, "t": 10.80, "ec": 4.08},
   {"s": "SACRAMENTO RIVER AT EMMATON", "seg": 1, "t": 10.87, "ec": 4.27},
   {"s": "SACRAMENTO RIVER AT EMMATON", "seg": 1, "t": 10.91, "ec": 4.22},
   {"s": "SACRAMENTO RIVER AT EMMATON", "seg": 1, "t": 10.94, "ec": 3.97},
   {"s": "SACRAMENTO RIVER AT EMMATON", "seg": 1, "t": 10.98, "ec": 3.67},
   {"s": "SACRAMENTO RIVER AT EMMATON", "seg": 1, "t": 11.01, "ec": 3.41},
   {"s": "SACRAMENTO RIVER AT EMMATON", "seg": 1, "t": 11.06, "ec": 3.06},
   {"s": "SACRAMENTO RIVER AT EMMATON", "seg": 1, "t": 11.11, "ec": 2.75},
   {"s": "SACRAMENTO RIVER AT EMMATON", "seg": 1, "t": 11.17, "ec": 2.25},
   {"s": "SACRAMENTO RIVER AT EMMATON", "seg": 1, "t": 11.22, "ec": 1.73},
   {"s": "SACRAMENTO RIVER AT EMMATON", "seg": 1, "t": 11.27, "ec": 1.23},
   {"s": "SACRAMENTO RIVER AT EMMATON", "seg": 1, "t": 11.30, "ec": 0.92},
   {"s": "SACRAMENTO RIVER AT EMMATON", "seg": 1, "t": 11.34, "ec": 0.62},
   {"s": "SACRAMENTO RIVER AT EMMATON", "seg": 1, "t": 11.37, "ec": 0.43},
   {"s": "SACRAMENTO RIVER AT EMMATON", "seg": 1, "t": 11.44, "ec": 0.35},
   {"s": "SACRAMENTO RIVER AT EMMATON", "seg": 1, "t": 11.51, "ec": 0.31},
   {"s": "SACRAMENTO RIVER AT EMMATON", "seg": 1, "t": 11.56, "ec": 0.24},
   {"s": "SACRAMENTO RIVER AT EMMATON", "seg": 1, "t": 11.66, "ec": 0.22},
   {"s": "SACRAMENTO RIVER AT EMMATON", "seg": 1, "t": 11.73, "ec": 0.23}
  ],
  "notes": [
   {"style": "head", "t": 3.43, "ec": 4.40, "text": "NDWA Contract Standard"},
   {"style": "calibri", "t": 3.853, "ec": 2.90, "text": "(D-1641 = 2.78 mmhos)"},
   {"style": "arial", "t": 1.996, "ec": 3.80, "text": "(3.60 mmhos)"},
   {"style": "arial", "t": 7.865, "ec": 3.29, "text": "(2.77 mmhos)"},
   {"style": "arial", "t": 10.536, "ec": 2.54, "text": "(2.80 mmhos)"}
  ],
  "arrows": [
   {"t": 2.733, "ec": 4.292, "t2": 2.846, "ec2": 3.656, "angle": -12},
   {"t": 7.390, "ec": 3.260, "t2": 7.298, "ec2": 2.830, "angle": 14}
  ]
 },
 "layer": [
  {
   "data": {"name": "boxes"},
   "mark": {"type": "rect", "fill": "white", "strokeWidth": 0},
   "encoding": {
    "x": {"field": "t", "type": "quantitative",
      "scale": {"domain": [0, 11.73], "nice": false, "zero": false},
      "axis": {"title": null, "values": [0,1,2,3,4,5,6,7,8,9,10,11],
        "labelExpr": "['Jan-14','Feb-14','Mar-14','Apr-14','May-14','Jun-14','Jul-14','Aug-14','Sep-14','Oct-14','Nov-14','Dec-14'][datum.value]",
        "labelAngle": -90, "labelFont": "Liberation Sans", "labelFontWeight": "bold", "labelFontSize": 30,
        "labelColor": "black", "labelPadding": 16, "labelFlush": false, "labelBound": false, "labelOverlap": false,
        "ticks": false, "domain": false, "grid": true, "gridColor": "black", "gridWidth": 2, "gridOpacity": 1}},
    "x2": {"field": "t2"},
    "y": {"field": "ec", "type": "quantitative",
      "scale": {"domain": [0, 6], "nice": false, "zero": false},
      "axis": {"title": "(14-Day Mean mmhos)",
        "values": [0,0.25,0.5,0.75,1,1.25,1.5,1.75,2,2.25,2.5,2.75,3,3.25,3.5,3.75,4,4.25,4.5,4.75,5,5.25,5.5,5.75,6],
        "labelExpr": "datum.value % 0.5 === 0 ? format(datum.value, '.1f') : ''",
        "labelFont": "Liberation Sans", "labelFontWeight": "bold", "labelFontSize": 27, "labelColor": "black",
        "labelPadding": 26, "labelOverlap": false, "labelFlush": false, "labelBound": false,
        "ticks": false, "domain": false, "grid": true, "gridColor": "black", "gridOpacity": 1,
        "gridWidth": {"condition": {"test": "datum.value % 0.5 === 0", "value": 4}, "value": 2},
        "titleFont": "Liberation Sans", "titleFontWeight": "bold", "titleFontSize": 28, "titleColor": "black",
        "titleAngle": 270, "titleX": -100, "titleY": 571, "titleAlign": "center", "titleBaseline": "middle"}},
    "y2": {"field": "ec2"}
   }
  },
  {
   "data": {"name": "series"},
   "mark": {"type": "line", "strokeWidth": 8, "strokeCap": "round", "strokeJoin": "round", "clip": true},
   "encoding": {
    "x": {"field": "t", "type": "quantitative"},
    "y": {"field": "ec", "type": "quantitative"},
    "detail": {"field": "seg", "type": "nominal"},
    "color": {"field": "s", "type": "nominal",
      "scale": {"domain": ["THREE-MILE SLOUGH AT SACRAMENTO RIVER", "SACRAMENTO RIVER AT EMMATON", "D 1641 Objective"],
                "range": ["#1F22DC", "#1EDC50", "#000000"]},
      "legend": {"title": null, "orient": "none", "legendX": 284, "legendY": 1137, "direction": "horizontal",
        "symbolType": "stroke", "symbolSize": 4624, "symbolStrokeWidth": 8,
        "labelFont": "Liberation Sans", "labelFontWeight": "bold", "labelFontSize": 24.5, "labelColor": "black",
        "columnPadding": 66, "labelOffset": 8, "padding": 0, "labelLimit": 0}},
    "strokeDash": {"field": "s", "type": "nominal",
      "scale": {"domain": ["THREE-MILE SLOUGH AT SACRAMENTO RIVER", "SACRAMENTO RIVER AT EMMATON", "D 1641 Objective"],
                "range": [[1, 0], [1, 0], [14, 24]]},
      "legend": {"title": null, "orient": "none", "legendX": 284, "legendY": 1137, "direction": "horizontal",
        "symbolType": "stroke", "symbolSize": 4624, "symbolStrokeWidth": 8,
        "labelFont": "Liberation Sans", "labelFontWeight": "bold", "labelFontSize": 24.5, "labelColor": "black",
        "columnPadding": 66, "labelOffset": 8, "padding": 0, "labelLimit": 0}}
   }
  },
  {
   "data": {"name": "ndwa"},
   "mark": {"type": "line", "color": "#FF0000", "strokeWidth": 7, "clip": true},
   "encoding": {
    "x": {"field": "t", "type": "quantitative"},
    "y": {"field": "ec", "type": "quantitative"}
   }
  },
  {
   "data": {"name": "d1641"},
   "mark": {"type": "line", "strokeWidth": 7, "strokeCap": "round", "clip": true},
   "encoding": {
    "x": {"field": "t", "type": "quantitative"},
    "y": {"field": "ec", "type": "quantitative"},
    "color": {"field": "s", "type": "nominal"},
    "strokeDash": {"field": "s", "type": "nominal"}
   }
  },
  {
   "data": {"name": "notes"},
   "transform": [{"filter": "datum.style === 'head'"}],
   "mark": {"type": "text", "font": "Lato", "fontWeight": "bold", "fontSize": 27, "color": "black", "align": "center", "baseline": "middle"},
   "encoding": {
    "x": {"field": "t", "type": "quantitative"},
    "y": {"field": "ec", "type": "quantitative"},
    "text": {"field": "text"}
   }
  },
  {
   "data": {"name": "notes"},
   "transform": [{"filter": "datum.style === 'calibri'"}],
   "mark": {"type": "text", "font": "Lato", "fontSize": 24, "color": "black", "align": "center", "baseline": "middle"},
   "encoding": {
    "x": {"field": "t", "type": "quantitative"},
    "y": {"field": "ec", "type": "quantitative"},
    "text": {"field": "text"}
   }
  },
  {
   "data": {"name": "notes"},
   "transform": [{"filter": "datum.style === 'arial'"}],
   "mark": {"type": "text", "font": "Liberation Sans", "fontSize": 25, "color": "black", "align": "center", "baseline": "middle"},
   "encoding": {
    "x": {"field": "t", "type": "quantitative"},
    "y": {"field": "ec", "type": "quantitative"},
    "text": {"field": "text"}
   }
  },
  {
   "data": {"name": "arrows"},
   "mark": {"type": "rule", "color": "black", "strokeWidth": 2.5},
   "encoding": {
    "x": {"field": "t", "type": "quantitative"},
    "y": {"field": "ec", "type": "quantitative"},
    "x2": {"field": "t2"},
    "y2": {"field": "ec2"}
   }
  },
  {
   "data": {"name": "arrows"},
   "mark": {"type": "point", "shape": "triangle-down", "filled": true, "color": "black", "size": 200, "opacity": 1},
   "encoding": {
    "x": {"field": "t2", "type": "quantitative"},
    "y": {"field": "ec2", "type": "quantitative"},
    "angle": {"field": "angle", "type": "quantitative", "scale": null}
   }
  }
 ]
}
